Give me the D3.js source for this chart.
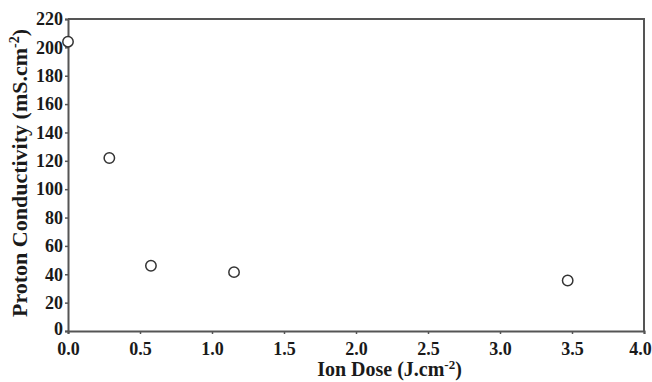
<!DOCTYPE html>
<html>
<head>
<meta charset="utf-8">
<script src="https://cdn.jsdelivr.net/npm/d3@7"></script>
<style>
  body { margin: 0; background: #fff; }
  text { font-family: "Liberation Serif", "Times New Roman", serif; font-weight: bold; fill: #1a1a1a; }
</style>
</head>
<body>
<div id="chart"></div>
<script>
// data
var ionDose = [0.0, 0.287, 0.576, 1.153, 3.47];
var conductivity = [204, 122, 46, 41.5, 35.6];
var xTicks = [0.0, 0.5, 1.0, 1.5, 2.0, 2.5, 3.0, 3.5, 4.0];
var yTicks = [0, 20, 40, 60, 80, 100, 120, 140, 160, 180, 200, 220];

var W = 652, H = 382;
var margin = { top: 19, right: 8, bottom: 51, left: 68 },
    width = W - margin.left - margin.right,
    height = H - margin.top - margin.bottom;

var svg = d3.select("#chart").append("svg")
    .attr("width", W).attr("height", H)
    .append("g")
    .attr("transform", "translate(" + margin.left + "," + margin.top + ")");

var x = d3.scaleLinear().domain([0, 4]).range([0, width]);
var y = d3.scaleLinear().domain([0, 220]).range([height, 0]);

var axisColor = "#555";

// frame (top + right)
svg.append("path")
    .attr("d", "M0,0H" + width + "V" + height)
    .attr("fill", "none").attr("stroke", axisColor).attr("stroke-width", 2);

//X axis
var xAxis = svg.append("g")
    .attr("transform", "translate(0," + height + ")")
    .call(d3.axisBottom(x).tickValues(xTicks).tickFormat(d3.format(".1f")).tickSize(3).tickPadding(8));
xAxis.select(".domain").attr("stroke", axisColor).attr("stroke-width", 2);
xAxis.selectAll("line").attr("stroke", axisColor).attr("stroke-width", 1.5);
xAxis.selectAll("text").style("font-size", "18px").attr("fill", "#1a1a1a");
// keep the last label inside the window
xAxis.selectAll("text").filter(function (d) { return d === 4; }).attr("dx", -4);

//Y axis
var yAxis = svg.append("g")
    .call(d3.axisLeft(y).tickValues(yTicks).tickSize(3).tickPadding(2));
yAxis.select(".domain").attr("stroke", axisColor).attr("stroke-width", 2);
yAxis.selectAll("line").attr("stroke", axisColor).attr("stroke-width", 1.5);
yAxis.selectAll("text").style("font-size", "18px").attr("fill", "#1a1a1a");
// nudge the bottom "0" up so it clears the "0.0" below it
yAxis.selectAll("text").filter(function (d) { return d === 0; }).attr("dy", "0.2em");

// axis titles
var xt = svg.append("text")
    .attr("x", 389.5 - margin.left).attr("y", 376 - margin.top)
    .attr("text-anchor", "middle").style("font-size", "20px")
    .text("Ion Dose (J.cm");
xt.append("tspan").attr("dy", -7).style("font-size", "13px").text("-2");
xt.append("tspan").attr("dy", 7).text(")");

var yt = svg.append("text")
    .attr("transform", "translate(-41," + (173 - margin.top) + ") rotate(-90)")
    .attr("text-anchor", "middle").style("font-size", "22px")
    .text("Proton Conductivity (mS.cm");
yt.append("tspan").attr("dy", -8).style("font-size", "14px").text("-2");
yt.append("tspan").attr("dy", 8).text(")");

// points
svg.selectAll(".dot")
    .data(ionDose.map(function (d, i) { return { x: d, y: conductivity[i] }; }))
    .enter().append("circle")
    .attr("class", "dot")
    .attr("r", 5.2)
    .attr("cx", function (d) { return x(d.x); })
    .attr("cy", function (d) { return y(d.y); })
    .attr("fill", "#fff")
    .attr("stroke", "#333")
    .attr("stroke-width", 1.5);
</script>
</body>
</html>
